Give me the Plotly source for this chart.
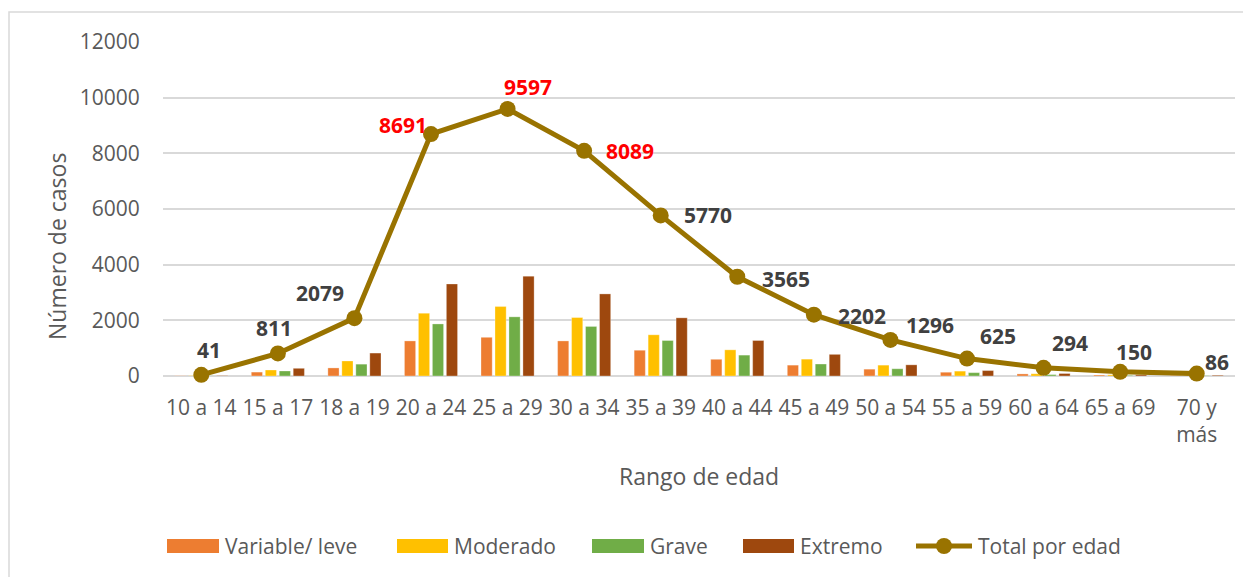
import plotly.graph_objects as go

# categorías de edad
rangos = ["10 a 14", "15 a 17", "18 a 19", "20 a 24", "25 a 29", "30 a 34", "35 a 39",
          "40 a 44", "45 a 49", "50 a 54", "55 a 59", "60 a 64", "65 a 69", "70 y<br>más"]

leve = [8, 140, 290, 1260, 1390, 1260, 925, 600, 390, 245, 135, 75, 35, 20]
moderado = [12, 215, 540, 2255, 2495, 2100, 1480, 940, 605, 390, 175, 80, 45, 25]
grave = [8, 180, 425, 1870, 2125, 1780, 1275, 750, 430, 260, 120, 50, 25, 15]
extremo = [13, 276, 824, 3306, 3587, 2949, 2090, 1275, 777, 401, 195, 89, 45, 26]
total = [41, 811, 2079, 8691, 9597, 8089, 5770, 3565, 2202, 1296, 625, 294, 150, 86]

# desplazamiento (px) de cada etiqueta respecto a su punto
dx_etiqueta = [8, -4, -34, -28, 20, 46, 47, 49, 48, 40, 31, 26, 14, 20]
dy_etiqueta = [25, 25, 25, 9, 22, 0, 0, -2, -1, 15, 23, 25, 20, 12]
color_etiquetas = ["#404040"] * 3 + ["#FF0000"] * 3 + ["#404040"] * 8

FUENTE = "Open Sans, sans-serif"
GRIS = "#595959"

# area de trazado en pixeles de pantalla
PL, PR, PT, PB = 163, 1235, 42, 376


def px(x):
    return (x - PL) / (PR - PL)


def py(y):
    return (PB - y) / (PB - PT)


fig = go.Figure()

series = [("Variable/ leve", leve, "#ED7D31"),
          ("Moderado", moderado, "#FFC000"),
          ("Grave", grave, "#70AD47"),
          ("Extremo", extremo, "#9E480E")]
for nombre, vals, col in series:
    fig.add_trace(go.Bar(
        x=rangos, y=vals, name=nombre,
        marker=dict(color=col, line=dict(color="rgba(255,255,255,0.6)", width=0.5)),
    ))

fig.add_trace(go.Scatter(
    x=rangos, y=total, name="Total por edad", mode="lines+markers",
    line=dict(color="#997300", width=5),
    marker=dict(color="#997300", size=16),
    cliponaxis=False,
))

anotaciones = []
# etiquetas de datos del total
for cat, v, dx, dy, col in zip(rangos, total, dx_etiqueta, dy_etiqueta, color_etiquetas):
    anotaciones.append(dict(text=str(v), x=cat, y=v, xref="x", yref="y",
                            xshift=dx, yshift=dy, showarrow=False,
                            font=dict(family=FUENTE, size=21, color=col, weight="bold")))

# marco exterior + leyenda dibujada a mano (cajas anchas como en el original)
formas = [dict(type="rect", xref="paper", yref="paper",
               x0=px(9), x1=1.1, y0=-0.8, y1=py(12),
               line=dict(color="#D9D9D9", width=1.5), fillcolor="rgba(0,0,0,0)", layer="below")]
ley = [(167, 219, "#ED7D31", "Variable/ leve"),
       (397, 448, "#FFC000", "Moderado"),
       (592, 644, "#70AD47", "Grave"),
       (743, 794, "#9E480E", "Extremo")]
for x0, x1, col, txt in ley:
    formas.append(dict(type="rect", xref="paper", yref="paper",
                       x0=px(x0), x1=px(x1), y0=py(553), y1=py(539),
                       fillcolor=col, line=dict(width=0)))
    anotaciones.append(dict(text=txt, x=px(x1 + 4), y=py(546), xref="paper", yref="paper",
                            xanchor="left", yanchor="middle", showarrow=False,
                            font=dict(size=21, color=GRIS)))
formas.append(dict(type="line", xref="paper", yref="paper",
                   x0=px(916), x1=px(972), y0=py(546), y1=py(546),
                   line=dict(color="#997300", width=5)))
formas.append(dict(type="circle", xref="paper", yref="paper",
                   x0=px(936), x1=px(952), y0=py(554), y1=py(538),
                   fillcolor="#997300", line=dict(width=0)))
anotaciones.append(dict(text="Total por edad", x=px(976), y=py(546), xref="paper", yref="paper",
                        xanchor="left", yanchor="middle", showarrow=False,
                        font=dict(size=21, color=GRIS)))

# titulos de ejes
anotaciones.append(dict(text="Rango de edad", x=px(699), y=py(476), xref="paper", yref="paper",
                        xanchor="center", yanchor="middle", showarrow=False,
                        font=dict(size=23, color=GRIS)))
anotaciones.append(dict(text="Número de casos", x=px(57), y=py(247), xref="paper", yref="paper",
                        xanchor="center", yanchor="middle", showarrow=False, textangle=-90,
                        font=dict(size=23, color=GRIS)))

fig.update_layout(
    width=1251, height=577,
    margin=dict(l=PL - 8, r=1251 - PR + 8, t=PT - 8, b=577 - PB + 8, autoexpand=False),
    paper_bgcolor="white", plot_bgcolor="white",
    font=dict(family=FUENTE, size=21, color=GRIS),
    barmode="group", bargap=0.27, bargroupgap=0.2,
    showlegend=False,
    xaxis=dict(
        range=[-0.5, 13.5], showline=False, ticks="", showgrid=False,
        tickfont=dict(size=21, color=GRIS), automargin=False, ticklabelstandoff=17,
    ),
    yaxis=dict(
        range=[0, 12000], dtick=2000, tickformat="d",
        showgrid=True, gridcolor="#D9D9D9", gridwidth=1.5,
        zeroline=True, zerolinecolor="#D9D9D9", zerolinewidth=1.5,
        tickfont=dict(size=21, color=GRIS), ticks="outside", ticklen=18, tickcolor="white",
        showline=False, automargin=False,
    ),
    shapes=formas,
    annotations=anotaciones,
)

fig.write_html("out.html")
